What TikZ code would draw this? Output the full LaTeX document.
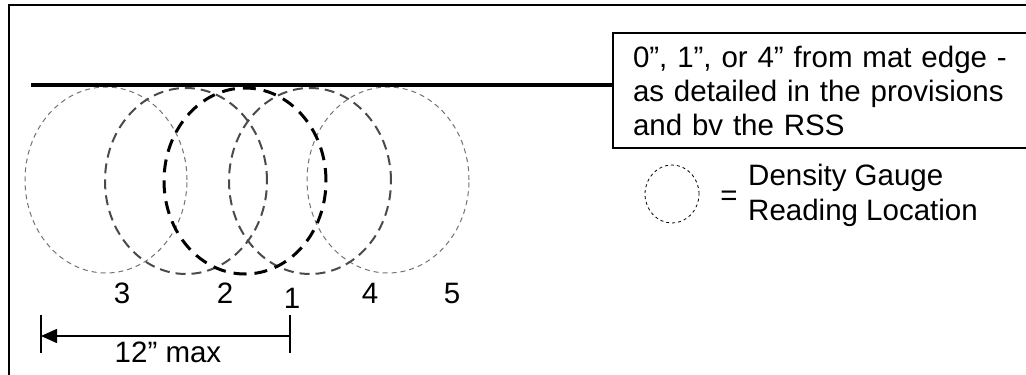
\documentclass[tikz,border=0pt]{standalone}
\usepackage{fontspec}
\setmainfont{Liberation Sans}
\usetikzlibrary{arrows.meta, positioning, shapes.geometric}
\definecolor{SpotDark}{RGB}{75,75,75}
\definecolor{SpotLight}{RGB}{115,115,115}
\tikzset{
  >={Triangle[length=16pt,width=14pt]},
  % Posizioni di lettura del densimetro
  spot/.style={ellipse,minimum width=162pt,minimum height=186pt,inner sep=0pt},
  spot far/.style={spot,draw=SpotLight,line width=1pt,dash pattern=on 5pt off 4pt},
  spot mid/.style={spot,draw=SpotDark,line width=2pt,dash pattern=on 10pt off 6pt},
  spot main/.style={spot,draw=black,line width=3pt,dash pattern=on 13pt off 8pt},
  % Testi
  txt/.style={font=\fontsize{29.5}{33}\selectfont,inner sep=0pt},
  frame/.style={line width=2pt},
  dim/.style={line width=1.5pt}
}

\begin{document}
\begin{tikzpicture}[x=1pt,y=-1pt]
    \useasboundingbox (0,0) rectangle (1026,375);
    \draw[frame] (1040,5) -- (9,5) -- (9,380);
    % riquadro note
    \node[draw,frame,anchor=north west,minimum width=440pt,minimum height=115pt,
          text width=400pt,align=left,inner xsep=20pt,inner ysep=0pt,
          font=\fontsize{29.5}{34}\selectfont] (note) at (612,32)
          {0”, 1”, or 4” from mat edge -\\as detailed in the provisions\\and bv the RSS};
    \coordinate (edge) at (31,85);
    % cerchi
    \node[spot far] (c3) at (106,180) {};
    \node[spot far] (c5) at (388,180) {};
    \node[spot mid] (c2) at (186,181) {};
    \node[spot mid] (c4) at (310,181) {};
    \node[spot main] (c1) at (245,181) {};
    \draw[line width=3.2pt] (edge) -- (edge -| note.west);
    \node[txt] (n3) at (122,293) {3};
    \node[txt] (n2) at (225,293) {2};
    \node[txt] (n1) at (292,298) {1};
    \node[txt] (n4) at (370,293) {4};
    \node[txt] (n5) at (452,293) {5};
    % quota
    \coordinate (dl) at (41,315);
    \coordinate (dr) at (290,315);
    \draw[dim] (dl) -- ++(0,38);
    \draw[dim] (dr) -- ++(0,38);
    \draw[dim,->] ([yshift=-21pt]dr) -- ([yshift=-21pt]dl);
    \node[txt] (max) at (168,352) {12” max};
    % legenda
    \node[ellipse,draw,line width=0.8pt,dash pattern=on 3pt off 3pt,
          minimum width=54pt,minimum height=58pt] (key) at (672,194) {};
    \node[txt] (eq) at (729,198) {=};
    \node[txt,anchor=west,align=left,font=\fontsize{29.5}{35}\selectfont]
          (keytxt) at (748,195) {Density Gauge\\Reading Location};
\end{tikzpicture}
\end{document}
